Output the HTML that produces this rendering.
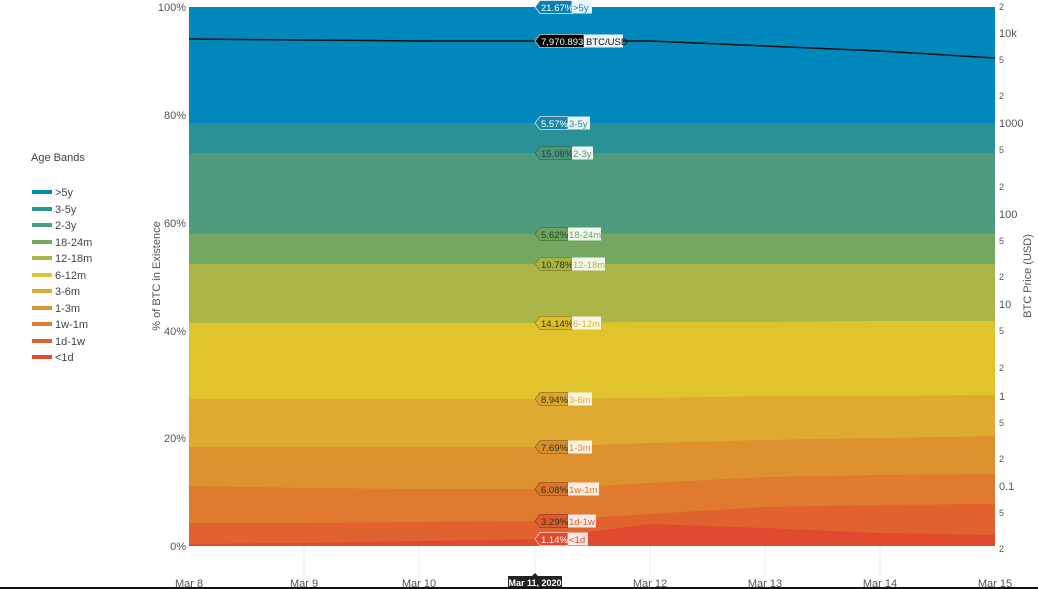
<!DOCTYPE html>
<html><head><meta charset="utf-8"><style>
html,body{margin:0;padding:0;background:#fff;}
svg{display:block;font-family:"Liberation Sans",sans-serif;}
.tk{font-size:11px;fill:#555;}
.tr{font-size:9px;fill:#555;}
.lg{font-size:11px;fill:#444;}
.pt{font-size:9.5px;}
.nm{font-size:9.5px;}
</style></head><body>
<svg width="1038" height="589" viewBox="0 0 1038 589">
<rect width="1038" height="589" fill="#fff"/>
<g stroke="#eee" stroke-width="1">
<line x1="304" y1="546" x2="304" y2="576"/><line x1="419" y1="546" x2="419" y2="576"/><line x1="535" y1="546" x2="535" y2="576"/><line x1="650" y1="546" x2="650" y2="576"/><line x1="765" y1="546" x2="765" y2="576"/><line x1="880" y1="546" x2="880" y2="576"/>
</g>
<rect x="189" y="7" width="806" height="539" fill="#0088bc"/>
<polygon fill="#2a9196" points="189,123 995,123 995,546 189,546"/>
<polygon fill="#4f9b7d" points="189,153 995,153 995,546 189,546"/>
<polygon fill="#74a862" points="189,234 995,234 995,546 189,546"/>
<polygon fill="#acb648" points="189,264 995,264 995,546 189,546"/>
<polygon fill="#e0c42e" points="189,323 304,323 419,323 535,323 650,322 765,322 880,321 995,321 995,546 189,546"/>
<polygon fill="#deaa30" points="189,399 304,399 419,399 535,399 650,398 765,396 880,396 995,395 995,546 189,546"/>
<polygon fill="#dd922f" points="189,447 304,447 419,447 535,447 650,443 765,440 880,438 995,436 995,546 189,546"/>
<polygon fill="#df7a2e" points="189,486 304,488 419,489 535,489 650,483 765,477 880,475 995,474 995,546 189,546"/>
<polygon fill="#e0622f" points="189,523 304,523 419,522 535,521 650,514 765,507 880,505 995,504 995,546 189,546"/>
<polygon fill="#e04b2f" points="189,544 304,543 419,541 535,539 650,524 765,528 880,533 995,535 995,546 189,546"/>
<polyline fill="none" stroke="#111" stroke-width="1.5" points="189,39 304,40 419,41 535,41 650,41 765,46 880,51 995,58"/>
<g class="tk" text-anchor="end">
<text x="186" y="11">100%</text><text x="186" y="119">80%</text><text x="186" y="227">60%</text><text x="186" y="335">40%</text><text x="186" y="442">20%</text><text x="186" y="550">0%</text>
</g>
<text class="tk" transform="translate(160,276) rotate(-90)" text-anchor="middle">% of BTC in Existence</text>
<g class="tr">
<text x="999" y="10">2</text><text x="999" y="37" style="font-size:11px">10k</text><text x="999" y="63">5</text><text x="999" y="99">2</text><text x="999" y="127" style="font-size:11px">1000</text><text x="999" y="153">5</text><text x="999" y="190">2</text><text x="999" y="218" style="font-size:11px">100</text><text x="999" y="244">5</text><text x="999" y="280">2</text><text x="999" y="308" style="font-size:11px">10</text><text x="999" y="334">5</text><text x="999" y="371">2</text><text x="999" y="400" style="font-size:11px">1</text><text x="999" y="426">5</text><text x="999" y="462">2</text><text x="999" y="490" style="font-size:11px">0.1</text><text x="999" y="516">5</text><text x="999" y="552">2</text>
</g>
<text class="tk" transform="translate(1031,276) rotate(-90)" text-anchor="middle">BTC Price (USD)</text>
<g class="tk" text-anchor="middle">
<text x="189" y="587">Mar 8</text><text x="304" y="587">Mar 9</text><text x="419" y="587">Mar 10</text><text x="650" y="587">Mar 12</text><text x="765" y="587">Mar 13</text><text x="880" y="587">Mar 14</text><text x="995" y="587">Mar 15</text>
</g>
<polygon fill="#222" points="508,576 532,576 535,573 538,576 562,576 562,589 508,589"/>
<text x="535" y="586" text-anchor="middle" style="font-size:9px;font-weight:bold;fill:#fff">Mar 11, 2020</text>
<rect x="0" y="587" width="1038" height="2" fill="#111"/>
<text class="lg" x="31" y="161">Age Bands</text>
<g stroke-width="4">
<line x1="32" y1="192" x2="52" y2="192" stroke="#0088bc"/>
<line x1="32" y1="209" x2="52" y2="209" stroke="#2a9196"/>
<line x1="32" y1="225" x2="52" y2="225" stroke="#4f9b7d"/>
<line x1="32" y1="242" x2="52" y2="242" stroke="#74a862"/>
<line x1="32" y1="258" x2="52" y2="258" stroke="#acb648"/>
<line x1="32" y1="275" x2="52" y2="275" stroke="#e0c42e"/>
<line x1="32" y1="291" x2="52" y2="291" stroke="#deaa30"/>
<line x1="32" y1="308" x2="52" y2="308" stroke="#dd922f"/>
<line x1="32" y1="324" x2="52" y2="324" stroke="#df7a2e"/>
<line x1="32" y1="341" x2="52" y2="341" stroke="#e0622f"/>
<line x1="32" y1="357" x2="52" y2="357" stroke="#e04b2f"/>
</g>
<g class="lg">
<text x="55" y="196">&gt;5y</text><text x="55" y="213">3-5y</text><text x="55" y="229">2-3y</text><text x="55" y="246">18-24m</text><text x="55" y="262">12-18m</text><text x="55" y="279">6-12m</text><text x="55" y="295">3-6m</text><text x="55" y="312">1-3m</text><text x="55" y="328">1w-1m</text><text x="55" y="345">1d-1w</text><text x="55" y="361">&lt;1d</text>
</g>
<g>
<polygon points="535,7 540,0.5 572,0.5 572,13.5 540,13.5" fill="#0a7fae" stroke="#eee" stroke-width="0.8"/>
<text class="pt" x="541" y="11" fill="#fff">21.67%</text>
<rect x="572" y="0.5" width="20" height="13" fill="#eaf4f8"/><text class="nm" x="573" y="11" fill="#0088bc">&gt;5y</text>
<polygon points="535,41 540,34.5 584,34.5 584,47.5 540,47.5" fill="#000" stroke="#ccc" stroke-width="0.8"/>
<text class="pt" x="541" y="45" fill="#fff">7,970.893</text>
<rect x="584" y="34.5" width="39" height="13" fill="#eef4f8"/><text class="nm" x="586" y="45" fill="#111">BTC/USD</text>
<polygon points="535,123 540,116.5 568,116.5 568,129.5 540,129.5" fill="#1c86a6" stroke="#dde" stroke-width="0.8"/>
<text class="pt" x="541" y="127" fill="#fff">5.57%</text>
<rect x="568" y="116.5" width="22" height="13" fill="#e8f2f3"/><text class="nm" x="569" y="127" fill="#2a9196">3-5y</text>
<polygon points="535,153 540,146.5 572,146.5 572,159.5 540,159.5" fill="#4a957a" stroke="#2f6e55" stroke-width="0.8"/>
<text class="pt" x="541" y="157" fill="#244">15.08%</text>
<rect x="572" y="146.5" width="21" height="13" fill="#eef5f1"/><text class="nm" x="573" y="157" fill="#4f9b7d">2-3y</text>
<polygon points="535,234 540,227.5 568,227.5 568,240.5 540,240.5" fill="#6ea25c" stroke="#4a7a3a" stroke-width="0.8"/>
<text class="pt" x="541" y="238" fill="#243">5.62%</text>
<rect x="568" y="227.5" width="33" height="13" fill="#f1f6ee"/><text class="nm" x="569" y="238" fill="#74a862">18-24m</text>
<polygon points="535,264 540,257.5 572,257.5 572,270.5 540,270.5" fill="#a8b244" stroke="#7a8230" stroke-width="0.8"/>
<text class="pt" x="541" y="268" fill="#332">10.78%</text>
<rect x="572" y="257.5" width="33" height="13" fill="#f6f7ea"/><text class="nm" x="573" y="268" fill="#acb648">12-18m</text>
<polygon points="535,323 540,316.5 572,316.5 572,329.5 540,329.5" fill="#dcbe2a" stroke="#9a8420" stroke-width="0.8"/>
<text class="pt" x="541" y="327" fill="#332">14.14%</text>
<rect x="572" y="316.5" width="29" height="13" fill="#fbf7e6"/><text class="nm" x="573" y="327" fill="#d4b428">6-12m</text>
<polygon points="535,399 540,392.5 568,392.5 568,405.5 540,405.5" fill="#daa52e" stroke="#9a7420" stroke-width="0.8"/>
<text class="pt" x="541" y="403" fill="#332">8.94%</text>
<rect x="568" y="392.5" width="24" height="13" fill="#fbf3e4"/><text class="nm" x="569" y="403" fill="#deaa30">3-6m</text>
<polygon points="535,447 540,440.5 568,440.5 568,453.5 540,453.5" fill="#d98d2c" stroke="#9a6220" stroke-width="0.8"/>
<text class="pt" x="541" y="451" fill="#332">7.69%</text>
<rect x="568" y="440.5" width="24" height="13" fill="#fbf0e4"/><text class="nm" x="569" y="451" fill="#dd922f">1-3m</text>
<polygon points="535,489 540,482.5 568,482.5 568,495.5 540,495.5" fill="#db752b" stroke="#9a5020" stroke-width="0.8"/>
<text class="pt" x="541" y="493" fill="#332">6.08%</text>
<rect x="568" y="482.5" width="31" height="13" fill="#fbede4"/><text class="nm" x="569" y="493" fill="#df7a2e">1w-1m</text>
<polygon points="535,521 540,514.5 568,514.5 568,527.5 540,527.5" fill="#dc5d2c" stroke="#9a3e20" stroke-width="0.8"/>
<text class="pt" x="541" y="525" fill="#332">3.29%</text>
<rect x="568" y="514.5" width="28" height="13" fill="#fbe9e4"/><text class="nm" x="569" y="525" fill="#e0622f">1d-1w</text>
<polygon points="535,539 540,532.5 568,532.5 568,545.5 540,545.5" fill="#e04b2f" stroke="#f3d0c8" stroke-width="0.8"/>
<text class="pt" x="541" y="543" fill="#fff">1.14%</text>
<rect x="568" y="532.5" width="20" height="13" fill="#fbe6e2"/><text class="nm" x="569" y="543" fill="#e04b2f">&lt;1d</text>
</g>
</svg>
</body></html>
